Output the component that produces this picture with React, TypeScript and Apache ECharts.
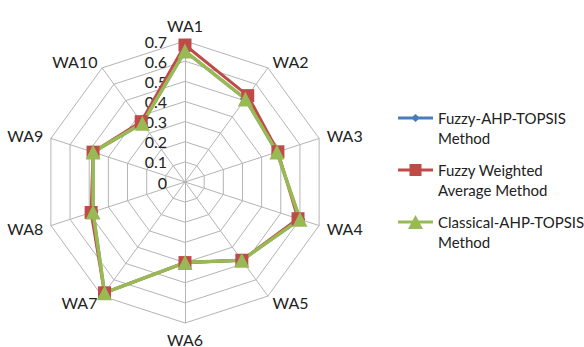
import React, { useEffect, useRef } from "react";
import * as echarts from "echarts";

const categories = ["WA1", "WA2", "WA3", "WA4", "WA5", "WA6", "WA7", "WA8", "WA9", "WA10"];
const seriesNames = [
  "Fuzzy-AHP-TOPSIS\nMethod",
  "Fuzzy Weighted\nAverage Method",
  "Classical-AHP-TOPSIS\nMethod",
];
const fuzzyAhpTopsis = [0.65, 0.51, 0.48, 0.6, 0.48, 0.4, 0.68, 0.48, 0.48, 0.36];
const fuzzyWeighted = [0.68, 0.53, 0.485, 0.59, 0.48, 0.4, 0.68, 0.49, 0.48, 0.37];
const classicalAhp = [0.65, 0.51, 0.48, 0.6, 0.48, 0.4, 0.68, 0.48, 0.48, 0.36];
const axisMax = 0.7;

// ECharts radar goes counter-clockwise; reorder to draw clockwise
const reorder = <T,>(arr: T[]): T[] => [arr[0], ...arr.slice(1).reverse()];

const legendIcons = [
  "path://M0,5.5H35V8.5H0Z M17.5,3L22,7L17.5,11L13,7Z",
  "path://M0,5.5H35V8.5H0Z M11.5,1H23.5V13H11.5Z",
  "path://M0,5.5H35V8.5H0Z M17.5,0L25,14H10Z",
];
const colors = ["#4a7ebb", "#be4b48", "#98b954"];

export default function App() {
  const ref = useRef<HTMLDivElement>(null);
  useEffect(() => {
    if (!ref.current) return;
    const chart = echarts.init(ref.current, null, { renderer: "svg" });
    const font = "Lato, 'Open Sans', sans-serif";
    const cats = reorder(categories);
    chart.setOption({
      animation: false,
      backgroundColor: "#ffffff",
      textStyle: { fontFamily: font },
      legend: {
        orient: "vertical",
        left: 393,
        top: 83,
        itemWidth: 35,
        itemHeight: 14,
        itemGap: -8,
        formatter: (name: string) => "\n" + name,
        textStyle: {
          fontFamily: font,
          fontSize: 15,
          color: "#222",
          lineHeight: 20,
        },
        data: seriesNames.map((n, i) => ({ name: n, icon: legendIcons[i], itemStyle: { color: colors[i] } })),
      },
      radar: {
        center: [185, 182],
        radius: 141,
        startAngle: 90,
        shape: "polygon",
        splitNumber: 7,
        nameGap: 8,
        axisName: { color: "#222", fontSize: 16, fontFamily: font },
        indicator: cats.map((n, i) =>
          i === 0
            ? {
                name: n,
                min: 0,
                max: axisMax,
                axisLabel: {
                  show: true,
                  color: "#222",
                  fontSize: 16,
                  fontFamily: font,
                  margin: 18,
                  formatter: (v: number) => String(+v.toFixed(1)),
                },
              }
            : { name: n, min: 0, max: axisMax }
        ),
        axisLabel: { show: false },
        splitLine: { lineStyle: { color: "#b4b4b4", width: 1 } },
        splitArea: { show: false },
        axisLine: { lineStyle: { color: "#b4b4b4", width: 1 } },
        axisTick: { show: false },
      },
      series: [
        {
          type: "radar",
          data: [
            {
              name: seriesNames[0],
              value: reorder(fuzzyAhpTopsis),
              symbol: "diamond",
              symbolSize: 11,
              itemStyle: { color: colors[0] },
              lineStyle: { color: colors[0], width: 3 },
            },
            {
              name: seriesNames[1],
              value: reorder(fuzzyWeighted),
              symbol: "rect",
              symbolSize: 13,
              itemStyle: { color: colors[1] },
              lineStyle: { color: colors[1], width: 3 },
            },
            {
              name: seriesNames[2],
              value: reorder(classicalAhp),
              symbol: "triangle",
              symbolSize: 15,
              itemStyle: { color: colors[2] },
              lineStyle: { color: colors[2], width: 3.5 },
            },
          ],
        },
      ],
    });
    return () => chart.dispose();
  }, []);
  return <div ref={ref} style={{ width: 584, height: 347, position: "absolute", left: 0, top: 0 }} />;
}
